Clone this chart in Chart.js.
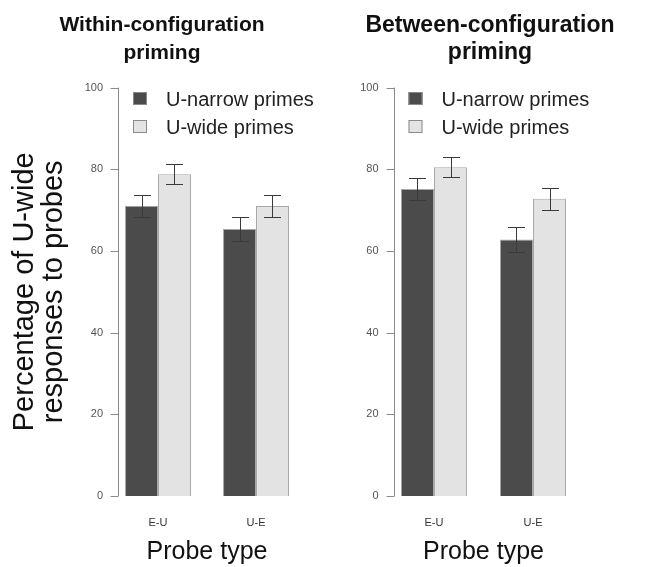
<!DOCTYPE html>
<html>
<head>
<meta charset="utf-8">
<script src="https://cdn.jsdelivr.net/npm/chart.js@4/dist/chart.umd.min.js"></script>
<style>
  html, body { margin: 0; padding: 0; background: #ffffff; }
  #wrap { position: relative; width: 648px; height: 567px; overflow: hidden; background: #fff; }
  .panel { position: absolute; top: 0; }
</style>
</head>
<body>
<div id="wrap">
  <div class="panel" style="left:0px;width:324px;height:567px;"><canvas id="c1" width="324" height="567"></canvas></div>
  <div class="panel" style="left:332px;width:316px;height:567px;"><canvas id="c2" width="316" height="567"></canvas></div>
</div>
<script>
// ---- data ----
const categories = ['E-U', 'U-E'];
const seriesNames = ['U-narrow primes', 'U-wide primes'];
const panelTitles = [['Within-configuration', 'priming'], ['Between-configuration', 'priming']];
const yTitle = ['Percentage of U-wide', 'responses to probes'];
const xTitle = 'Probe type';
const yTicks = [0, 20, 40, 60, 80, 100];

const withinNarrow = [71.1, 65.4];
const withinWide = [78.8, 71.0];
const withinNarrowErr = [2.7, 2.9];
const withinWideErr = [2.4, 2.8];

const betweenNarrow = [75.2, 62.8];
const betweenWide = [80.5, 72.8];
const betweenNarrowErr = [2.6, 3.0];
const betweenWideErr = [2.5, 2.7];

// ---- styles ----
const DARK = '#4b4b4b';
const LIGHT = '#e3e3e3';
const BORDER = '#a8a8a8';
const AXIS = '#8a8a8a';
const FONT = "'Liberation Sans', Arial, Helvetica, sans-serif";

const axisPlugin = {
  id: 'rAxis',
  afterDraw(chart, args, opts) {
    const ctx = chart.ctx;
    const y = chart.scales.y;
    const x0 = chart.chartArea.left + opts.axisOffset;
    ctx.save();
    ctx.strokeStyle = AXIS;
    ctx.lineWidth = 1;
    ctx.beginPath();
    ctx.moveTo(Math.round(x0) + 0.5, y.getPixelForValue(yTicks[0]));
    ctx.lineTo(Math.round(x0) + 0.5, y.getPixelForValue(yTicks[yTicks.length - 1]));
    yTicks.forEach(t => {
      const py = Math.round(y.getPixelForValue(t)) + 0.5;
      ctx.moveTo(Math.round(x0) + 0.5, py);
      ctx.lineTo(Math.round(x0) - 7.5, py);
    });
    ctx.stroke();
    ctx.restore();
  }
};

const errPlugin = {
  id: 'errBars',
  afterDatasetsDraw(chart, args, opts) {
    const ctx = chart.ctx;
    const y = chart.scales.y;
    ctx.save();
    ctx.strokeStyle = '#3a3a3a';
    ctx.lineWidth = 1;
    chart.data.datasets.forEach((ds, i) => {
      const meta = chart.getDatasetMeta(i);
      meta.data.forEach((bar, j) => {
        const v = ds.data[j], e = opts.errors[i][j];
        const x = Math.round(bar.x) + 0.5;
        const yt = Math.round(y.getPixelForValue(v + e)) + 0.5;
        const yb = Math.round(y.getPixelForValue(v - e)) + 0.5;
        const cap = 8.5;
        ctx.beginPath();
        ctx.moveTo(x, yt); ctx.lineTo(x, yb);
        ctx.moveTo(x - cap, yt); ctx.lineTo(x + cap, yt);
        ctx.moveTo(x - cap, yb); ctx.lineTo(x + cap, yb);
        ctx.stroke();
      });
    });
    ctx.restore();
  }
};

const legendPlugin = {
  id: 'rLegend',
  afterDraw(chart) {
    const ctx = chart.ctx;
    const left = chart.chartArea.left + 24;
    const top = chart.chartArea.top + 11.5;
    ctx.save();
    ctx.font = '20px ' + FONT;
    ctx.textBaseline = 'middle';
    ctx.textAlign = 'left';
    chart.data.datasets.forEach((ds, i) => {
      const cy = top + i * 28;
      ctx.fillStyle = ds.backgroundColor;
      ctx.fillRect(left, Math.round(cy - 7), 14, 13);
      ctx.strokeStyle = '#8a8a8a';
      ctx.lineWidth = 1;
      ctx.strokeRect(left + 0.5, Math.round(cy - 7) + 0.5, 13, 12);
      ctx.fillStyle = '#222';
      ctx.fillText(ds.label, left + 33, cy + 1);
    });
    ctx.restore();
  }
};

function makeChart(id, title, titleSize, narrow, wide, nErr, wErr, yWidth, padRight, showYTitle, catPct) {
  const lh = 27.3 / titleSize;
  return new Chart(document.getElementById(id), {
    type: 'bar',
    data: {
      labels: categories,
      datasets: [
        { label: seriesNames[0], data: narrow, backgroundColor: DARK, borderColor: BORDER, borderWidth: 1 },
        { label: seriesNames[1], data: wide, backgroundColor: LIGHT, borderColor: BORDER, borderWidth: 1 }
      ]
    },
    plugins: [axisPlugin, errPlugin, legendPlugin],
    options: {
      responsive: false,
      animation: false,
      events: [],
      layout: { padding: 0 },
      datasets: { bar: { categoryPercentage: catPct, barPercentage: 1 } },
      plugins: {
        legend: { display: false },
        tooltip: { enabled: false },
        title: {
          display: true,
          text: title,
          color: '#111',
          font: { family: FONT, size: titleSize, weight: 'bold', lineHeight: lh },
          padding: { top: 12, bottom: 21 }
        },
        rAxis: { axisOffset: 9 },
        errBars: { errors: [nErr, wErr] }
      },
      scales: {
        x: {
          grid: { display: false, drawTicks: false },
          border: { display: false },
          ticks: { color: '#333', font: { family: FONT, size: 11 }, padding: 20, maxRotation: 0, autoSkip: false },
          title: { display: true, text: xTitle, color: '#111', font: { family: FONT, size: 25, lineHeight: 1.0 }, padding: { top: 0, bottom: 2 } },
          afterFit: s => { s.height = 71; }
        },
        y: {
          min: 0, max: 100,
          afterBuildTicks: s => { s.ticks = yTicks.map(v => ({ value: v })); },
          grid: { display: false, drawTicks: false },
          border: { display: false },
          ticks: { color: '#555', font: { family: FONT, size: 11 }, padding: 6 },
          title: showYTitle ? { display: true, text: yTitle, color: '#111', font: { family: FONT, size: 29, lineHeight: 1.0 }, padding: { top: 10, bottom: 0 } } : { display: false },
          afterFit: s => { s.width = yWidth; }
        },
        yR: {
          type: 'linear',
          position: 'right',
          display: true,
          grid: { display: false, drawTicks: false },
          border: { display: false },
          ticks: { display: false },
          afterFit: s => { s.width = padRight; }
        }
      }
    }
  });
}

makeChart('c1', panelTitles[0], 21, withinNarrow, withinWide, withinNarrowErr, withinWideErr, 109, 19, true, 0.673);
makeChart('c2', panelTitles[1], 23, betweenNarrow, betweenWide, betweenNarrowErr, betweenWideErr, 52.5, 65.5, false, 0.667);
</script>
</body>
</html>
